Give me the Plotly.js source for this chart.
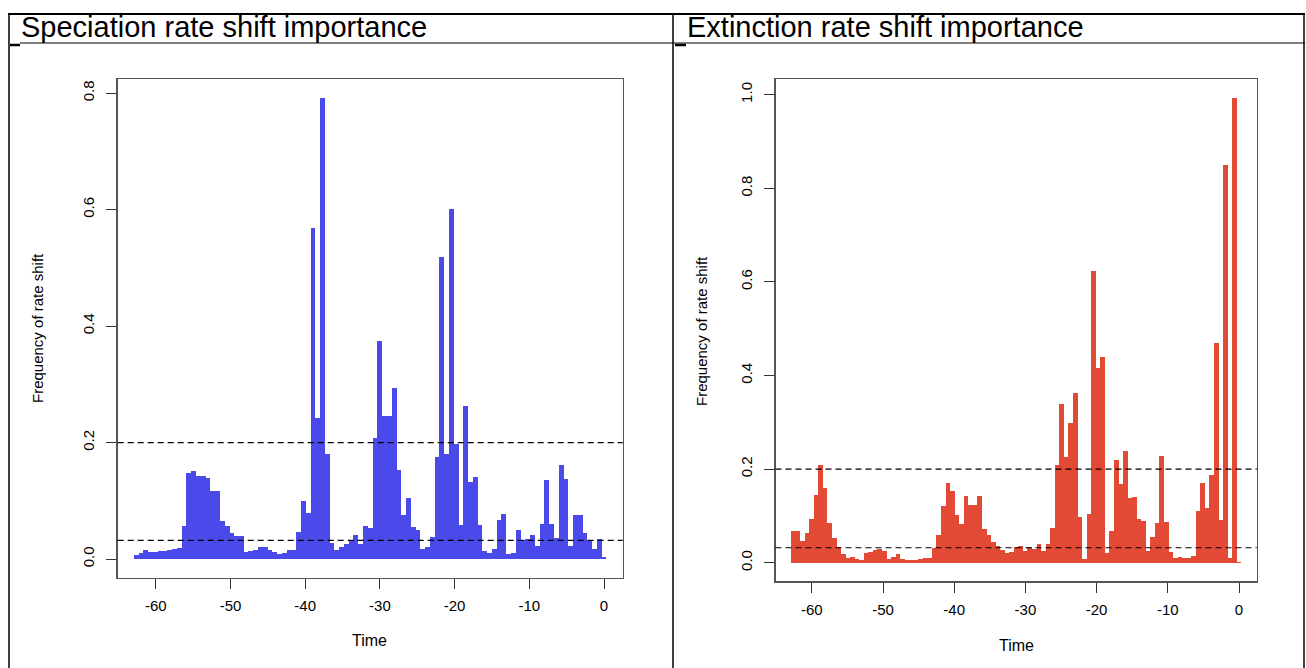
<!DOCTYPE html>
<html>
<head>
<meta charset="utf-8">
<script src="https://cdn.plot.ly/plotly-3.0.1.min.js"></script>
<style>
html,body{margin:0;padding:0;background:#fff;}
#chart{width:1306px;height:668px;}
</style>
</head>
<body>
<div id="chart"></div>
<script>
// Time (Myr before present) of each interval
const times = [-62.60,-61.96,-61.32,-60.68,-60.04,-59.41,-58.77,-58.13,-57.49,-56.85,
  -56.21,-55.57,-54.93,-54.30,-53.66,-53.02,-52.38,-51.74,-51.10,-50.46,
  -49.82,-49.19,-48.55,-47.91,-47.27,-46.63,-45.99,-45.35,-44.71,-44.07,
  -43.44,-42.80,-42.16,-41.52,-40.88,-40.24,-39.60,-38.96,-38.33,-37.69,
  -37.05,-36.41,-35.77,-35.13,-34.49,-33.85,-33.22,-32.58,-31.94,-31.30,
  -30.66,-30.02,-29.38,-28.74,-28.10,-27.47,-26.83,-26.19,-25.55,-24.91,
  -24.27,-23.63,-22.99,-22.36,-21.72,-21.08,-20.44,-19.80,-19.16,-18.52,
  -17.88,-17.25,-16.61,-15.97,-15.33,-14.69,-14.05,-13.41,-12.77,-12.13,
  -11.50,-10.86,-10.22,-9.58,-8.94,-8.30,-7.66,-7.02,-6.39,-5.75,
  -5.11,-4.47,-3.83,-3.19,-2.55,-1.91,-1.28,-0.64,0.00];

// Frequency of speciation rate shift
const speciationFreq = [0.007,0.010,0.015,0.012,0.012,0.013,0.014,0.015,0.018,0.019,
  0.057,0.147,0.151,0.142,0.142,0.140,0.116,0.117,0.065,0.057,
  0.044,0.039,0.039,0.012,0.014,0.015,0.020,0.021,0.015,0.012,
  0.008,0.011,0.015,0.016,0.047,0.099,0.079,0.569,0.243,0.792,
  0.181,0.028,0.015,0.020,0.026,0.033,0.041,0.026,0.057,0.053,
  0.207,0.374,0.245,0.245,0.294,0.153,0.075,0.104,0.055,0.050,
  0.018,0.021,0.037,0.175,0.518,0.181,0.601,0.198,0.058,0.262,
  0.133,0.141,0.058,0.013,0.010,0.018,0.067,0.078,0.008,0.011,
  0.050,0.033,0.035,0.041,0.023,0.060,0.135,0.061,0.036,0.161,
  0.138,0.023,0.075,0.075,0.044,0.033,0.018,0.034,0.003];

// Frequency of extinction rate shift
const extinctionFreq = [0.068,0.068,0.047,0.064,0.094,0.145,0.209,0.159,0.085,0.052,
  0.033,0.018,0.011,0.012,0.007,0.006,0.021,0.022,0.027,0.030,
  0.025,0.009,0.012,0.018,0.007,0.006,0.005,0.005,0.007,0.011,
  0.011,0.032,0.059,0.121,0.171,0.153,0.102,0.083,0.143,0.123,
  0.123,0.143,0.071,0.059,0.045,0.036,0.027,0.020,0.023,0.034,
  0.036,0.024,0.034,0.030,0.040,0.026,0.040,0.075,0.208,0.339,
  0.225,0.298,0.362,0.097,0.009,0.104,0.624,0.415,0.440,0.021,
  0.068,0.219,0.168,0.239,0.138,0.141,0.093,0.089,0.024,0.056,
  0.084,0.228,0.086,0.022,0.011,0.012,0.011,0.010,0.014,0.111,
  0.170,0.116,0.187,0.469,0.092,0.850,0.010,0.993,0.002];

const xTickVals = [-60,-50,-40,-30,-20,-10,0];
const xTickText = ["-60","-50","-40","-30","-20","-10","0"];
const ySpecTicks = [0.0,0.2,0.4,0.6,0.8];
const yExtTicks = [0.0,0.2,0.4,0.6,0.8,1.0];
const thresholds = [0.2, 0.032];
const panelTitles = ["Speciation rate shift importance","Extinction rate shift importance"];
const xTitle = "Time";
const yTitle = "Frequency of rate shift";

const W = 1306, H = 668;
const px = v => v / W;
const py = v => 1 - v / H;
const FONT = "Liberation Sans, Arial, sans-serif";

const traces = [
  {type:'bar', x: times, y: speciationFreq, xaxis:'x', yaxis:'y',
   width: 0.66, marker:{color:'#4A4AEB', line:{width:0}}, hoverinfo:'x+y'},
  {type:'bar', x: times, y: extinctionFreq, xaxis:'x2', yaxis:'y2',
   width: 0.66, marker:{color:'#E24A35', line:{width:0}}, hoverinfo:'x+y'}
];

function xa(domain){
  return {domain: domain, range:[-65.1, 2.5], tickvals: xTickVals, ticktext: xTickText, ticks:'outside', ticklen:10,
    tickwidth:1, tickcolor:'#333', showline:true, mirror:true, linecolor:'#555', linewidth:1.3,
    showgrid:false, zeroline:false, tickfont:{family:FONT, size:15, color:'#000'},
    ticklabelstandoff:4, fixedrange:true};
}
function ya(domain, range, ticks, anchor){
  return {domain: domain, range: range, tickvals: ticks, tickformat:'.1f', ticks:'outside', ticklen:10,
    tickwidth:1, tickcolor:'#333', showline:true, mirror:true, linecolor:'#555', linewidth:1.3,
    showgrid:false, zeroline:false, tickangle:-90, tickfont:{family:FONT, size:15, color:'#000'},
    ticklabelstandoff:6, anchor: anchor, fixedrange:true};
}

const shapes = [];
// threshold lines
[['x','y'],['x2','y2']].forEach(([xr,yr])=>{
  thresholds.forEach(t=>{
    shapes.push({type:'line', xref: xr+' domain', yref: yr, x0:0, x1:1, y0:t, y1:t,
      line:{color:'#000', width:1.2, dash:'6px,4px'}, layer:'above'});
  });
});
// table borders
const tl = (x0,y0,x1,y1,w,c)=>shapes.push({type:'line', xref:'paper', yref:'paper',
  x0:px(x0), x1:px(x1), y0:py(y0), y1:py(y1), line:{color:c||'#000', width:w}});
tl(8,14,1305,14,2);
tl(20,43,1305,43,1);
tl(9,14,9,668,1.5);
tl(673,14,673,668,1.5);
tl(1304,14,1304,668,1.5);
tl(10,45,20,45,2.5);
tl(675,45,686,45,2.5);

const annotations = [
  {text: panelTitles[0], x:px(19), y:py(27), xref:'paper', yref:'paper', xanchor:'left', yanchor:'middle',
   showarrow:false, font:{family:FONT, size:29, color:'#000'}},
  {text: panelTitles[1], x:px(685), y:py(27), xref:'paper', yref:'paper', xanchor:'left', yanchor:'middle',
   showarrow:false, font:{family:FONT, size:29, color:'#000'}},
  {text: xTitle, x:px(369), y:py(640), xref:'paper', yref:'paper', xanchor:'center', yanchor:'middle',
   showarrow:false, font:{family:FONT, size:16, color:'#000'}},
  {text: xTitle, x:px(1017), y:py(645), xref:'paper', yref:'paper', xanchor:'center', yanchor:'middle',
   showarrow:false, font:{family:FONT, size:16, color:'#000'}},
  {text: yTitle, x:px(37), y:py(328), xref:'paper', yref:'paper', xanchor:'center', yanchor:'middle',
   textangle:-90, showarrow:false, font:{family:FONT, size:15, color:'#000'}},
  {text: yTitle, x:px(701), y:py(331), xref:'paper', yref:'paper', xanchor:'center', yanchor:'middle',
   textangle:-90, showarrow:false, font:{family:FONT, size:15, color:'#000'}}
];

const layout = {
  width: W, height: H, margin:{l:0,r:0,t:0,b:0},
  paper_bgcolor:'#fff', plot_bgcolor:'#fff', showlegend:false, bargap:0,
  xaxis: Object.assign(xa([px(117.7), px(622.7)]), {anchor:'y'}),
  yaxis: ya([py(577.5), py(79.3)], [-0.0317, 0.8237], ySpecTicks, 'x'),
  xaxis2: Object.assign(xa([px(775.5), px(1256.8)]), {anchor:'y2'}),
  yaxis2: ya([py(581.3), py(79.4)], [-0.0397, 1.0327], yExtTicks, 'x2'),
  shapes: shapes, annotations: annotations
};

Plotly.newPlot('chart', traces, layout, {displayModeBar:false, staticPlot:true});
</script>
</body>
</html>
